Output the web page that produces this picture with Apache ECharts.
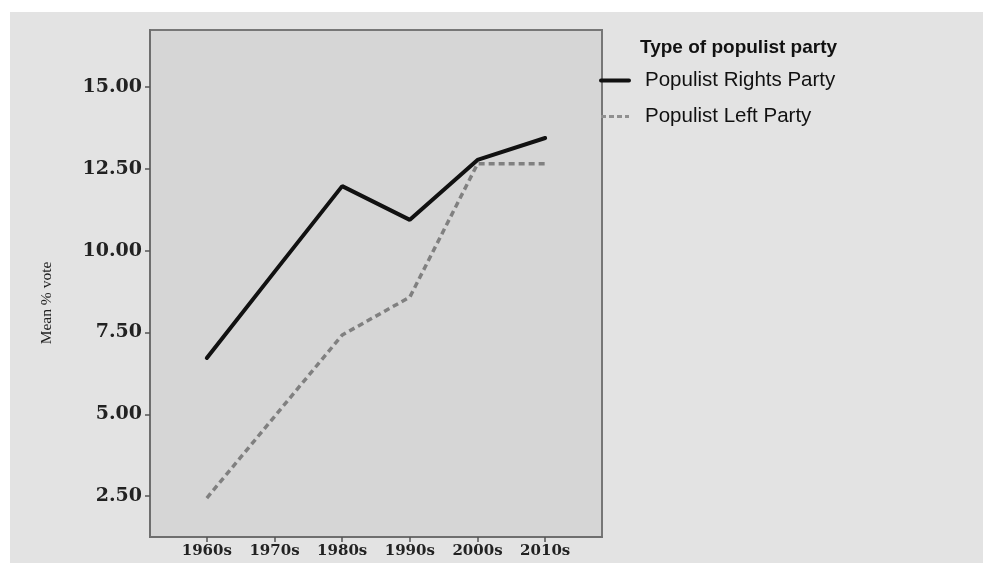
<!DOCTYPE html>
<html>
<head>
<meta charset="utf-8">
<script src="https://cdn.jsdelivr.net/npm/echarts@6/dist/echarts.min.js"></script>
<style>html,body{margin:0;padding:0;background:#fff;}#c{width:983px;height:563px;}</style>
</head>
<body>
<div id="c"></div>
<script>
const categories = ['1960s', '1970s', '1980s', '1990s', '2000s', '2010s'];
const rightValues = [6.72, 9.35, 11.97, 10.94, 12.77, 13.44];
const leftValues = [2.44, 4.93, 7.42, 8.58, 12.65, 12.65];
const yTicks = [2.5, 5, 7.5, 10, 12.5, 15];
const legendTitle = 'Type of populist party';
const seriesNames = ['Populist Rights Party', 'Populist Left Party'];
const yAxisName = 'Mean % vote';

const chart = echarts.init(document.getElementById('c'));
const toPairs = arr => arr.map((v, i) => [i, v]);
const tickFont = { fontFamily: 'DejaVu Serif', fontSize: 19, fontWeight: 'bold', color: '#222' };

chart.setOption({
  animation: false,
  backgroundColor: '#ffffff',
  graphic: [
    { type: 'rect', z: -10, shape: { x: 10, y: 12, width: 973, height: 551 }, style: { fill: '#e3e3e3' } },
    { type: 'text', left: 640, top: 38, style: { text: legendTitle, font: 'bold 19px "Liberation Sans", Arial, sans-serif', fill: '#111' } },
    { type: 'text', x: 47, y: 303, rotation: Math.PI / 2, style: { text: yAxisName, font: '15.5px "Liberation Serif", serif', fill: '#222', align: 'center', verticalAlign: 'middle' } }
  ],
  grid: { left: 150, top: 30, width: 452, height: 507, show: true, backgroundColor: '#d6d6d6', borderColor: '#777777', borderWidth: 2 },
  legend: {
    orient: 'vertical', left: 599, top: 70, padding: 0, itemWidth: 28, itemHeight: 20, itemGap: 15,
    itemStyle: { color: 'transparent', borderWidth: 0, opacity: 0 },
    textStyle: { fontFamily: '"Liberation Sans", Arial, sans-serif', fontSize: 20.5, color: '#111', padding: [0, 0, 0, 11] },
    data: [
      { name: seriesNames[0], lineStyle: { color: '#111', width: 4, type: 'solid' } },
      { name: seriesNames[1], lineStyle: { color: '#909090', width: 3, type: [5, 3] } }
    ]
  },
  xAxis: {
    type: 'value', min: -0.84, max: 5.84,
    axisLine: { show: true, onZero: false, lineStyle: { color: '#6e6e6e', width: 2 } },
    axisTick: { show: true, customValues: [0, 1, 2, 3, 4, 5], length: 5, lineStyle: { color: '#555', width: 1.5 } },
    axisLabel: { customValues: [0, 1, 2, 3, 4, 5], formatter: v => categories[Math.round(v)] || '', margin: 7, ...tickFont, fontSize: 15 },
    splitLine: { show: false }
  },
  yAxis: {
    type: 'value', min: 1.25, max: 16.74,
    axisLine: { show: true, onZero: false, lineStyle: { color: '#6e6e6e', width: 2 } },
    axisTick: { show: true, customValues: yTicks, length: 5, lineStyle: { color: '#555', width: 1.5 } },
    axisLabel: { customValues: yTicks, formatter: v => v.toFixed(2), margin: 8, ...tickFont },
    splitLine: { show: false }
  },
  series: [
    { name: seriesNames[0], type: 'line', data: toPairs(rightValues), symbol: 'none', color: '#111',
      lineStyle: { color: '#111', width: 4, cap: 'round' } },
    { name: seriesNames[1], type: 'line', data: toPairs(leftValues), symbol: 'none', color: '#808080',
      lineStyle: { color: '#808080', width: 3.5, type: [6, 4] } }
  ]
});
</script>
</body>
</html>
